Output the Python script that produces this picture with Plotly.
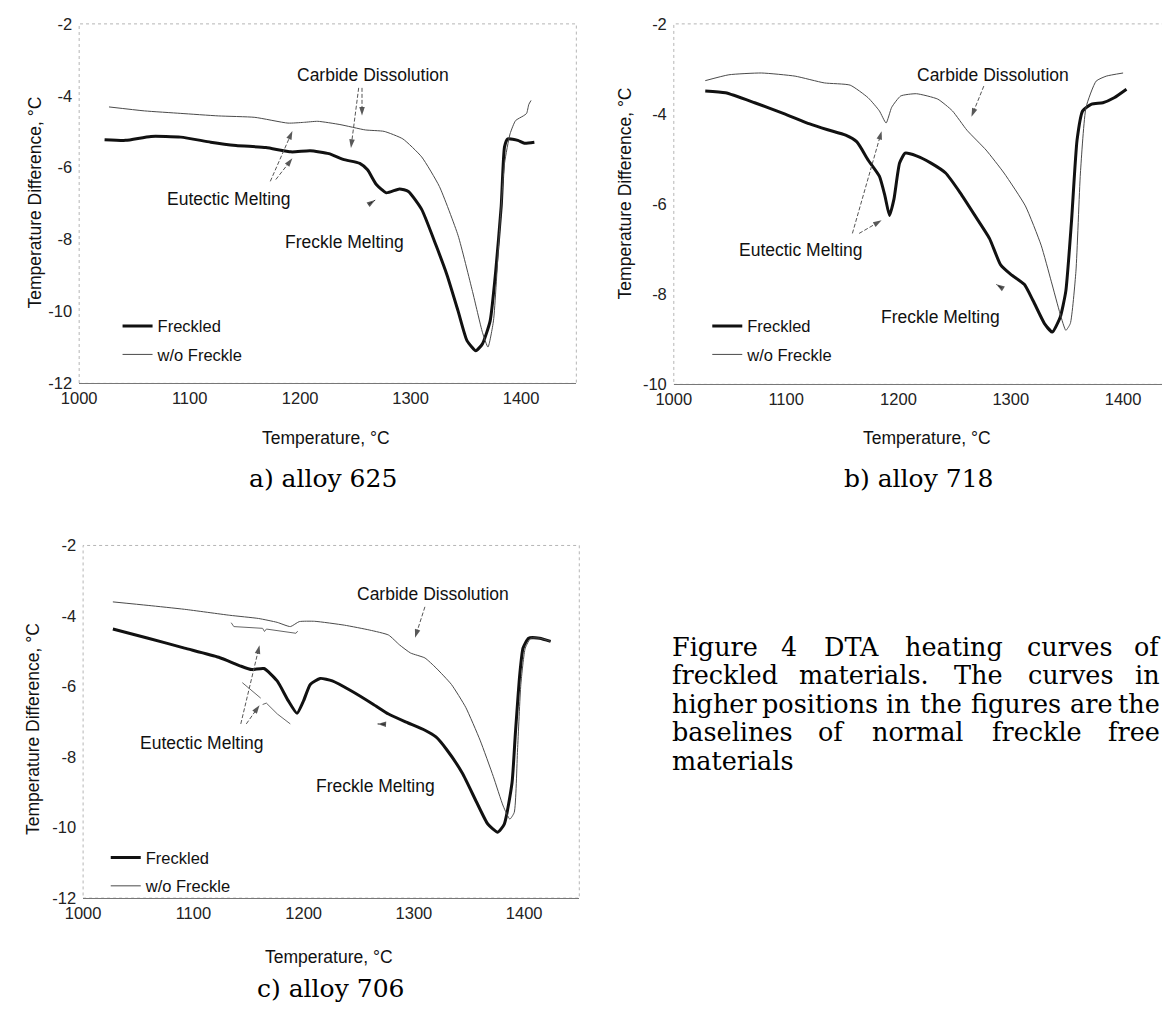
import plotly.graph_objects as go

# ---------------- data ----------------
# a) alloy 625
a_freckled_T = [1023, 1042, 1065, 1092, 1119, 1142, 1169, 1192, 1209, 1226, 1239, 1254, 1261, 1269,
                1278, 1290, 1298, 1310, 1323, 1333, 1343, 1351, 1359, 1365, 1372, 1377, 1382, 1385,
                1388, 1397, 1403, 1412]
a_freckled_dT = [-5.22, -5.24, -5.13, -5.15, -5.29, -5.38, -5.44, -5.56, -5.53, -5.61, -5.77, -5.88,
                 -6.06, -6.47, -6.70, -6.59, -6.66, -7.16, -8.16, -8.99, -9.99, -10.81, -11.09,
                 -10.90, -10.26, -8.89, -7.07, -5.42, -5.20, -5.24, -5.32, -5.29]
a_free_T = [1027, 1059, 1092, 1126, 1159, 1189, 1203, 1216, 1236, 1259, 1276, 1293, 1310, 1326,
            1343, 1356, 1365, 1370, 1375, 1380, 1385, 1390, 1395, 1402, 1405, 1407, 1409]
a_free_dT = [-4.31, -4.42, -4.49, -4.56, -4.60, -4.76, -4.74, -4.71, -4.80, -4.95, -4.99, -5.20,
             -5.70, -6.52, -7.89, -9.44, -10.58, -10.99, -10.26, -7.98, -5.88, -5.06, -4.69,
             -4.56, -4.49, -4.24, -4.13]

# b) alloy 718
b_freckled_T = [1028, 1046, 1072, 1098, 1121, 1137, 1153, 1163, 1173, 1183, 1188, 1192, 1196, 1201,
                1206, 1216, 1229, 1242, 1255, 1268, 1281, 1291, 1300, 1312, 1320, 1330, 1337, 1344,
                1349, 1354, 1359, 1364, 1372, 1382, 1392, 1403]
b_freckled_dT = [-3.49, -3.53, -3.75, -3.99, -4.22, -4.35, -4.47, -4.62, -5.02, -5.38, -5.82, -6.25,
                 -5.89, -5.09, -4.87, -4.93, -5.09, -5.31, -5.75, -6.25, -6.76, -7.35, -7.56, -7.78,
                 -8.15, -8.65, -8.84, -8.51, -7.93, -6.40, -4.58, -3.93, -3.78, -3.75, -3.64, -3.45]
b_free_T = [1028, 1049, 1078, 1108, 1134, 1157, 1173, 1183, 1189, 1194, 1202, 1216, 1235, 1248,
            1261, 1278, 1294, 1313, 1327, 1336, 1344, 1349, 1353, 1358, 1362, 1367, 1376, 1385, 1400]
b_free_dT = [-3.26, -3.13, -3.09, -3.16, -3.31, -3.36, -3.64, -3.93, -4.20, -3.85, -3.60, -3.55,
             -3.67, -3.93, -4.36, -4.80, -5.31, -6.04, -6.91, -7.71, -8.44, -8.80, -8.65, -7.49,
             -5.31, -3.85, -3.27, -3.16, -3.09]

# c) alloy 706
c_freckled_T = [1027, 1059, 1092, 1123, 1143, 1153, 1164, 1176, 1186, 1194, 1200, 1206, 1215, 1226,
                1243, 1263, 1277, 1293, 1310, 1320, 1330, 1344, 1357, 1367, 1376, 1382, 1389, 1392,
                1396, 1399, 1404, 1414, 1424]
c_freckled_dT = [-4.37, -4.63, -4.91, -5.17, -5.42, -5.52, -5.49, -5.84, -6.40, -6.76, -6.40, -5.94,
                 -5.77, -5.84, -6.12, -6.50, -6.78, -7.01, -7.24, -7.43, -7.80, -8.46, -9.29, -9.90,
                 -10.13, -9.90, -8.73, -7.34, -5.66, -4.91, -4.63, -4.63, -4.72]
c_free_T = [1027, 1059, 1092, 1133, 1159, 1176, 1188, 1196, 1210, 1237, 1260, 1277, 1287, 1297,
            1310, 1320, 1334, 1347, 1360, 1372, 1381, 1387, 1391, 1394, 1397, 1401, 1406, 1414, 1424]
c_free_dT = [-3.60, -3.70, -3.81, -3.98, -4.07, -4.18, -4.30, -4.16, -4.15, -4.26, -4.40, -4.54,
             -4.82, -5.05, -5.19, -5.47, -5.94, -6.59, -7.52, -8.55, -9.39, -9.76, -9.57, -7.80,
             -5.94, -4.91, -4.63, -4.63, -4.72]
# small detail fragments drawn in panel c
c_detail1_T = [1134.3, 1136.7, 1162.8, 1164.5, 1166.2, 1176.2, 1193.0, 1194.6]
c_detail1_dT = [-4.19, -4.30, -4.35, -4.44, -4.37, -4.42, -4.49, -4.43]
c_detail2_T = [1144.4, 1161.1]
c_detail2_dT = [-5.89, -6.33]
c_detail3_T = [1162.8, 1166.2, 1176.2, 1187.9]
c_detail3_dT = [-6.51, -6.47, -6.78, -7.06]

# annotation labels (text, T, dT) and pointer arrows (tail T, tail dT, head T, head dT)
a_labels = [("Carbide Dissolution", 1266, -3.42), ("Eutectic Melting", 1136, -6.88),
            ("Freckle Melting", 1240, -8.08)]
a_arrows = [(1256, -3.78, 1256, -4.55), (1253, -3.78, 1246, -5.45), (1173, -6.38, 1193, -4.98),
            (1178, -6.33, 1193, -5.74), (1262, -7.02, 1268, -6.90)]
b_labels = [("Carbide Dissolution", 1284, -3.13), ("Eutectic Melting", 1113, -7.02),
            ("Freckle Melting", 1237, -8.51)]
b_arrows = [(1276, -3.38, 1265, -4.06), (1159, -6.65, 1185, -4.38), (1165, -6.65, 1185, -6.36),
            (1292, -7.86, 1287, -7.78)]
c_labels = [("Carbide Dissolution", 1317, -3.37), ("Eutectic Melting", 1108, -7.60),
            ("Freckle Melting", 1265, -8.83)]
c_arrows = [(1310, -3.74, 1301, -4.62), (1143, -7.06, 1160, -4.83), (1148, -7.06, 1160, -6.53),
            (1274, -7.07, 1267, -7.06)]

x_ticks = [1000, 1100, 1200, 1300, 1400]
x_ticktext = ["1000", "1100", "1200", "1300", "1400"]
y_ticks_12 = [-12, -10, -8, -6, -4, -2]
y_ticktext_12 = ["-12", "-10", "-8", "-6", "-4", "-2"]
y_ticks_10 = [-10, -8, -6, -4, -2]
y_ticktext_10 = ["-10", "-8", "-6", "-4", "-2"]

captions = ["a) alloy 625", "b) alloy 718", "c) alloy 706"]
caption_lines = [
    ["Figure", "4", "DTA", "heating", "curves", "of"],
    ["freckled", "materials.", "The", "curves", "in"],
    ["higher", "positions", "in", "the", "figures", "are", "the"],
    ["baselines", "of", "normal", "freckle", "free"],
    ["materials"],
]

# ---------------- geometry helpers ----------------
FW, FH, OFF = 1162, 1016, 8


def fx(p):
    return (p - OFF) / FW


def fy(p):
    return 1 - (p - OFF) / FH


SANS = "Liberation Sans, Arial, sans-serif"
SERIF = "DejaVu Serif, serif"
THICK = dict(color="#111111", width=3)
THIN = dict(color="#4a4a4a", width=1)

fig = go.Figure()

panels = [
    dict(key="", legend="legend", xpx=(62, 567), ypx=(15, 381), xr=[1000, 1450], yr=[-12, -2],
         yt=(y_ticks_12, y_ticktext_12), labels=a_labels, arrows=a_arrows,
         data=[(a_freckled_T, a_freckled_dT), (a_free_T, a_free_dT)]),
    dict(key="2", legend="legend2", xpx=(666, 1168), ypx=(15, 382), xr=[1000, 1440], yr=[-10, -2],
         yt=(y_ticks_10, y_ticktext_10), labels=b_labels, arrows=b_arrows,
         data=[(b_freckled_T, b_freckled_dT), (b_free_T, b_free_dT)]),
    dict(key="3", legend="legend3", xpx=(66, 570), ypx=(546, 905), xr=[1000, 1450], yr=[-12, -2],
         yt=(y_ticks_12, y_ticktext_12), labels=c_labels, arrows=c_arrows,
         data=[(c_freckled_T, c_freckled_dT), (c_free_T, c_free_dT)]),
]

layout_axes = {}
shapes = []
ann = []
for p in panels:
    k = p["key"]
    xa, ya = "x" + k, "y" + k
    (fT, fD), (nT, nD) = p["data"]
    fig.add_trace(go.Scatter(x=fT, y=fD, mode="lines", name="Freckled", line=THICK,
                             line_shape="spline", line_smoothing=0.5,
                             xaxis=xa, yaxis=ya, legend=p["legend"], legendgroup="f" + k))
    fig.add_trace(go.Scatter(x=nT, y=nD, mode="lines", name="w/o Freckle", line=THIN,
                             line_shape="spline", line_smoothing=0.5,
                             xaxis=xa, yaxis=ya, legend=p["legend"], legendgroup="n" + k))
    # pointer arrows
    for (t0, d0, t1, d1) in p["arrows"]:
        fig.add_trace(go.Scatter(x=[t0, t1], y=[d0, d1], mode="lines+markers",
                                 line=dict(color="#555", width=1, dash="4px,2px"),
                                 marker=dict(symbol="arrow", size=[0, 9], angleref="previous",
                                             color="#111", line=dict(width=0)),
                                 xaxis=xa, yaxis=ya, showlegend=False, hoverinfo="skip"))
    for (txt, t, d) in p["labels"]:
        ann.append(dict(text=txt, x=t, y=d, xref=xa, yref=ya, showarrow=False,
                        font=dict(family=SANS, size=17.5, color="#111")))
    layout_axes["xaxis" + k] = dict(
        domain=[fx(p["xpx"][0]), fx(p["xpx"][1])], range=p["xr"], anchor=ya,
        tickvals=x_ticks, ticktext=x_ticktext, ticks="", showgrid=False, zeroline=False,
        showline=True, linecolor="#777777", linewidth=1.2,
        tickfont=dict(family=SANS, size=16.5, color="#222"))
    layout_axes["yaxis" + k] = dict(
        domain=[fy(p["ypx"][1]), fy(p["ypx"][0])], range=p["yr"], anchor=xa,
        tickvals=p["yt"][0], ticktext=p["yt"][1], ticks="", showgrid=False, zeroline=False,
        showline=False, ticklabelstandoff=6,
        tickfont=dict(family=SANS, size=16.5, color="#222"))
    shapes.append(dict(type="rect", xref=xa + " domain", yref=ya + " domain", x0=0, x1=1, y0=0, y1=1,
                       line=dict(color="#b5b5b5", width=1, dash="dot"), layer="below"))

# detail fragments in panel c
for tx, ty in [(c_detail1_T, c_detail1_dT), (c_detail2_T, c_detail2_dT), (c_detail3_T, c_detail3_dT)]:
    fig.add_trace(go.Scatter(x=tx, y=ty, mode="lines", line=dict(color="#666", width=1),
                             xaxis="x3", yaxis="y3", showlegend=False, hoverinfo="skip"))

# axis titles
ytitle = "Temperature Difference, °C"
xtitle = "Temperature, °C"
for (xp, yp) in [(17, 197), (616, 188), (15, 733)]:
    ann.append(dict(text=ytitle, x=fx(xp), y=fy(yp), xref="paper", yref="paper", showarrow=False,
                    textangle=-90, xanchor="center", yanchor="middle",
                    font=dict(family=SANS, size=17.5, color="#111")))
for (xp, yp) in [(313, 437), (923, 437), (316, 965)]:
    ann.append(dict(text=xtitle, x=fx(xp), y=fy(yp), xref="paper", yref="paper", showarrow=False,
                    xanchor="center", yanchor="middle",
                    font=dict(family=SANS, size=17.5, color="#111")))

# captions
for text, (xp, yp) in zip(captions, [(310, 478), (915, 478), (317, 997)]):
    ann.append(dict(text=text, x=fx(xp), y=fy(yp), xref="paper", yref="paper", showarrow=False,
                    xanchor="center", yanchor="middle", font=dict(family=SERIF, size=25, color="#000")))

# justified figure caption text block
W = {' ': .318, 'a': .596, 'b': .641, 'c': .563, 'd': .641, 'e': .592, 'f': .371, 'g': .641,
     'h': .646, 'i': .320, 'k': .601, 'l': .320, 'm': .972, 'n': .646, 'o': .602, 'p': .641,
     'r': .478, 's': .513, 't': .402, 'u': .646, 'v': .565, 'w': .821, 'y': .565, 'F': .728,
     'D': .835, 'T': .714, 'A': .723, '.': .318, '4': .636}
TB_FONT = 25.5
TB_LEFT, TB_RIGHT = 662, 1162
line_y = [649, 678, 707, 736, 765]
for li, (words, yp) in enumerate(zip(caption_lines, line_y)):
    widths = [sum(W.get(ch, .6) for ch in w) * TB_FONT for w in words]
    n = len(words)
    if n == 1:
        ann.append(dict(text=words[0], x=fx(TB_LEFT), y=fy(yp), xref="paper", yref="paper",
                        showarrow=False, xanchor="left", yanchor="middle",
                        font=dict(family=SERIF, size=TB_FONT, color="#000")))
        continue
    gap = (TB_RIGHT - TB_LEFT - sum(widths)) / (n - 1)
    xcur = TB_LEFT
    for i, (w, wd) in enumerate(zip(words, widths)):
        if i == 0:
            xpos, anc = TB_LEFT, "left"
        elif i == n - 1:
            xpos, anc = TB_RIGHT, "right"
        else:
            xpos, anc = xcur + wd / 2, "center"
        ann.append(dict(text=w, x=fx(xpos), y=fy(yp), xref="paper", yref="paper",
                        showarrow=False, xanchor=anc, yanchor="middle",
                        font=dict(family=SERIF, size=TB_FONT, color="#000")))
        xcur += wd + gap

legend_common = dict(bgcolor="rgba(0,0,0,0)", font=dict(family=SANS, size=16.5, color="#111"),
                     xanchor="left", yanchor="top", itemwidth=30, tracegroupgap=4,
                     itemclick=False, itemdoubleclick=False)
fig.update_layout(
    width=FW, height=FH, margin=dict(l=0, r=0, t=0, b=0),
    paper_bgcolor="white", plot_bgcolor="white",
    showlegend=True,
    legend=dict(x=fx(101), y=fy(305), **legend_common),
    legend2=dict(x=fx(700), y=fy(305), **legend_common),
    legend3=dict(x=fx(89), y=fy(846), **legend_common),
    annotations=ann, shapes=shapes,
    **layout_axes,
)

fig.write_html("out.html")
